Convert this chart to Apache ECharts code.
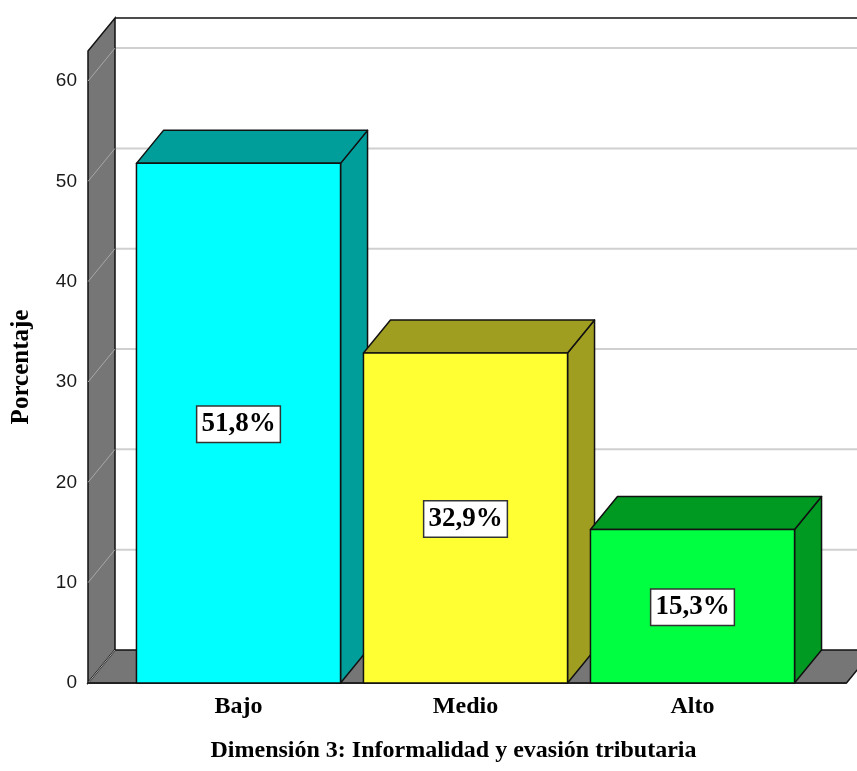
<!DOCTYPE html>
<html>
<head>
<meta charset="utf-8">
<script src="https://cdn.jsdelivr.net/npm/echarts@6/dist/echarts.min.js"></script>
<style>
  html, body { margin: 0; padding: 0; background: #fff; }
  #chart { width: 857px; height: 771px; }
</style>
</head>
<body>
<div id="chart"></div>
<script>
// Percentages per level of dimension 3
const categories = ['Bajo', 'Medio', 'Alto'];
const percentages = [51.8, 32.9, 15.3];
const yTicks = [0, 10, 20, 30, 40, 50, 60];
const valueLabels = ['51,8%', '32,9%', '15,3%'];

// Face / shade colours of each 3D bar
const frontColors = ['#00FFFF', '#FFFF33', '#00FF40'];
const shadeColors = ['#009E9A', '#A09E20', '#009A22'];

// 3D depth offset (pixels) shared by the frame and the bars
const DX = 27, DY = 33;
const WALL = '#767676';
const SERIF = '"Liberation Serif", "Times New Roman", serif';

const chart = echarts.init(document.getElementById('chart'));

// Draws the back wall, gridlines, the side wall and the floor
function renderFrame(params, api) {
  const cs = params.coordSys;
  const FL = cs.x - 37;
  const FR = cs.x + cs.width + 40.5;
  const Y0 = api.coord([0, 0])[1];
  const YT = cs.y;
  const children = [];

  // back wall
  children.push({ type: 'rect', shape: { x: FL + DX, y: YT - DY, width: FR - FL, height: Y0 - YT },
    style: { fill: '#fff' } });
  // gridlines on the back wall
  yTicks.forEach(t => {
    if (t === 0) return;
    const y = api.coord([0, t])[1];
    children.push({ type: 'line', shape: { x1: FL + DX, y1: y - DY, x2: FR + DX + 20, y2: y - DY },
      style: { stroke: '#d0d0d0', lineWidth: 2 } });
  });
  // top edge of the back wall
  children.push({ type: 'line', shape: { x1: FL + DX, y1: YT - DY, x2: FR + DX + 20, y2: YT - DY },
    style: { stroke: '#111', lineWidth: 1.5 } });
  // side wall
  children.push({ type: 'polygon', shape: { points: [[FL, Y0], [FL, YT], [FL + DX, YT - DY], [FL + DX, Y0 - DY]] },
    style: { fill: WALL, stroke: '#111', lineWidth: 1.5 } });
  yTicks.forEach(t => {
    if (t === 0) return;
    const y = api.coord([0, t])[1];
    children.push({ type: 'line', shape: { x1: FL, y1: y, x2: FL + DX, y2: y - DY },
      style: { stroke: '#a8a8a8', lineWidth: 1 } });
  });
  // floor
  children.push({ type: 'polygon', shape: { points: [[FL, Y0], [FL + DX, Y0 - DY], [FR + DX, Y0 - DY], [FR, Y0]] },
    style: { fill: WALL, stroke: '#111', lineWidth: 1.5 } });
  children.push({ type: 'line', shape: { x1: FL, y1: Y0, x2: FL + DX, y2: Y0 - DY },
    style: { stroke: '#a8a8a8', lineWidth: 1 } });
  children.push({ type: 'line', shape: { x1: FL, y1: Y0, x2: FR, y2: Y0 },
    style: { stroke: '#222', lineWidth: 2 } });
  return { type: 'group', children };
}

// Draws one 3D bar with its boxed value label
function renderBar(params, api) {
  const i = api.value(0);
  const v = api.value(1);
  const top = api.coord([i, v]);
  const base = api.coord([i, 0]);
  const bw = api.size([1, 0])[0] * 0.899;
  const x0 = top[0] - bw / 2, x1 = top[0] + bw / 2;
  const yt = top[1], yb = base[1];
  const edge = { stroke: '#111', lineWidth: 1.5, lineJoin: 'round' };
  return {
    type: 'group',
    children: [
      { type: 'polygon', shape: { points: [[x1, yt], [x1 + DX, yt - DY], [x1 + DX, yb - DY], [x1, yb]] },
        style: Object.assign({ fill: shadeColors[i] }, edge) },
      { type: 'polygon', shape: { points: [[x0, yt], [x0 + DX, yt - DY], [x1 + DX, yt - DY], [x1, yt]] },
        style: Object.assign({ fill: shadeColors[i] }, edge) },
      { type: 'rect', shape: { x: x0, y: yt, width: bw, height: yb - yt },
        style: Object.assign({ fill: frontColors[i] }, edge) },
      { type: 'text', x: top[0], y: (yt + yb) / 2 + 1,
        style: {
          text: valueLabels[i], fill: '#000',
          font: 'bold 27px ' + SERIF,
          align: 'center', verticalAlign: 'middle',
          backgroundColor: '#fff', borderColor: '#333', borderWidth: 1.5,
          padding: [5, 4, 3, 4]
        } }
    ]
  };
}

chart.setOption({
  animation: false,
  grid: { left: 125, right: 51, top: 51, bottom: 88 },
  xAxis: {
    type: 'category',
    data: categories,
    axisLine: { show: false },
    axisTick: { show: false },
    axisLabel: { margin: 12, color: '#000', fontFamily: SERIF, fontWeight: 'bold', fontSize: 24 },
    name: 'Dimensión 3: Informalidad y evasión tributaria',
    nameLocation: 'middle',
    nameGap: 56,
    nameTextStyle: { color: '#000', fontFamily: SERIF, fontWeight: 'bold', fontSize: 24, padding: [0, 24, 0, 0] }
  },
  yAxis: {
    type: 'value',
    min: 0, max: 63, interval: 10,
    axisLine: { show: false },
    axisTick: { show: false },
    splitLine: { show: false },
    axisLabel: {
      margin: 48, color: '#1a1a1a', fontFamily: '"Liberation Sans", Arial, sans-serif', fontSize: 19,
      formatter: v => (yTicks.includes(v) ? String(v) : '')
    },
    name: 'Porcentaje',
    nameLocation: 'middle',
    nameRotate: 90,
    nameGap: 91,
    nameTextStyle: { color: '#000', fontFamily: SERIF, fontWeight: 'bold', fontSize: 25 }
  },
  series: [
    { type: 'custom', renderItem: renderFrame, data: [[0, 0]], silent: true, z: 1 },
    { type: 'custom', renderItem: renderBar, data: percentages.map((p, i) => [i, p]), z: 2 }
  ]
});
</script>
</body>
</html>
